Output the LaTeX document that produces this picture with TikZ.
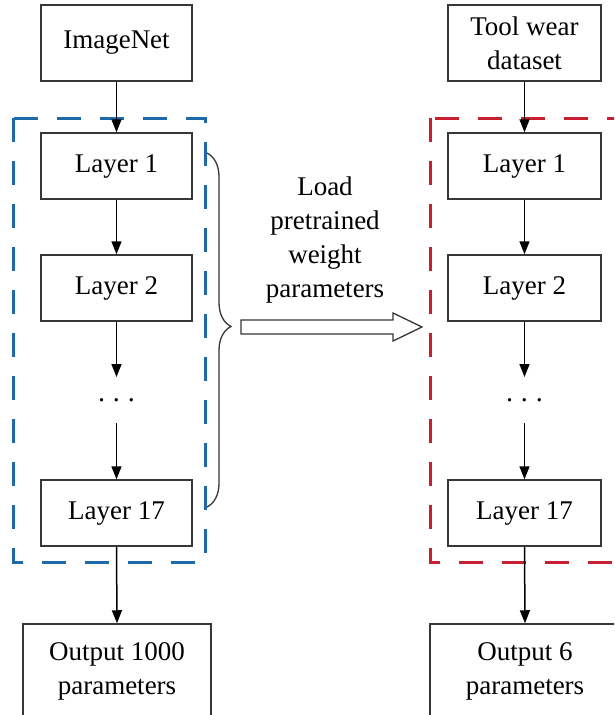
\documentclass[tikz,border=0pt]{standalone}
\usepackage{fontspec}
\setmainfont{Liberation Serif}
\newfontfamily\labelfont{Liberation Serif}
\usetikzlibrary{arrows.meta,decorations.pathreplacing}

\definecolor{boxline}{RGB}{55,55,55}
\definecolor{srcblue}{RGB}{30,105,170}
\definecolor{tgtred}{RGB}{200,30,50}

\tikzset{
  block/.style={draw=boxline, line width=1.5pt, fill=white, minimum width=151pt,
                minimum height=66pt, inner sep=0pt, align=center,
                font=\labelfont\fontsize{27}{34}\selectfont},
  flow/.style={draw=black, line width=1.5pt, -{Triangle[length=13pt,width=10pt]}},
  group/.style={line width=3pt, dash pattern=on 24pt off 19pt},
  dotsnode/.style={font=\labelfont\fontsize{28}{30}\selectfont, inner sep=0pt}
}

\begin{document}
\begin{tikzpicture}[x=1pt,y=-1pt]
  \clip (0,0) rectangle (614,715);
  \fill[white] (0,0) rectangle (614,715);

  % dashed frames around the layer stacks
  \draw[group, srcblue] (13,118) rectangle (205,562);
  \draw[group, tgtred] (430,118) rectangle (624,562);

  % source network
  \node[block, minimum height=76pt] (imgnet) at (116.5,43) {ImageNet};
  \node[block] (sl1) at (116.5,166) {Layer 1};
  \node[block] (sl2) at (116.5,288) {Layer 2};
  \node[dotsnode] (sdots) at (116.5,400) {.\hspace{8pt}.\hspace{8pt}.};
  \node[block] (sl17) at (116.5,513) {Layer 17};
  \node[block, minimum width=188pt, minimum height=94pt] (sout) at (117,671) {Output 1000\\parameters};
  \coordinate (sa) at (116.5,377);
  \coordinate (sb) at (116.5,423);

  \draw[flow] (imgnet.south) -- (sl1.north);
  \draw[flow] (sl1.south) -- (sl2.north);
  \draw[flow] (sl2.south) -- (sa);
  \draw[flow] (sb) -- (sl17.north);
  \draw[flow] (sl17.south) -- (sout.north);

  % target network
  \node[block, minimum width=153pt, minimum height=76pt] (tool) at (524.5,43) {Tool wear\\dataset};
  \node[block, minimum width=153pt] (tl1) at (524.5,166) {Layer 1};
  \node[block, minimum width=153pt] (tl2) at (524.5,288) {Layer 2};
  \node[dotsnode] (tdots) at (524.5,400) {.\hspace{8pt}.\hspace{8pt}.};
  \node[block, minimum width=153pt] (tl17) at (524.5,513) {Layer 17};
  \node[block, minimum width=190pt, minimum height=94pt] (tout) at (525,671) {Output 6\\parameters};
  \coordinate (ta) at (524.5,377);
  \coordinate (tb) at (524.5,423);

  \draw[flow] (tool.south) -- (tl1.north);
  \draw[flow] (tl1.south) -- (tl2.north);
  \draw[flow] (tl2.south) -- (ta);
  \draw[flow] (tb) -- (tl17.north);
  \draw[flow] (tl17.south) -- (tout.north);

  % brace over the pretrained layers
  \coordinate (btop) at (207,153);
  \coordinate (bbot) at (207,507);
  \draw[boxline, line width=1.3pt, decorate,
        decoration={brace, amplitude=24pt, aspect=0.49}] (btop) -- (bbot);

  % hollow transfer arrow
  \draw[boxline, line width=1.3pt, fill=white]
    (241,320) -- (393,320) -- (393,313) -- (422,327) -- (393,341)
    -- (393,334) -- (241,334) -- cycle;
  \node[align=center, font=\labelfont\fontsize{27}{34}\selectfont, inner sep=0pt] (load) at (325,240)
    {Load\\pretrained\\weight\\parameters};
\end{tikzpicture}
\end{document}
